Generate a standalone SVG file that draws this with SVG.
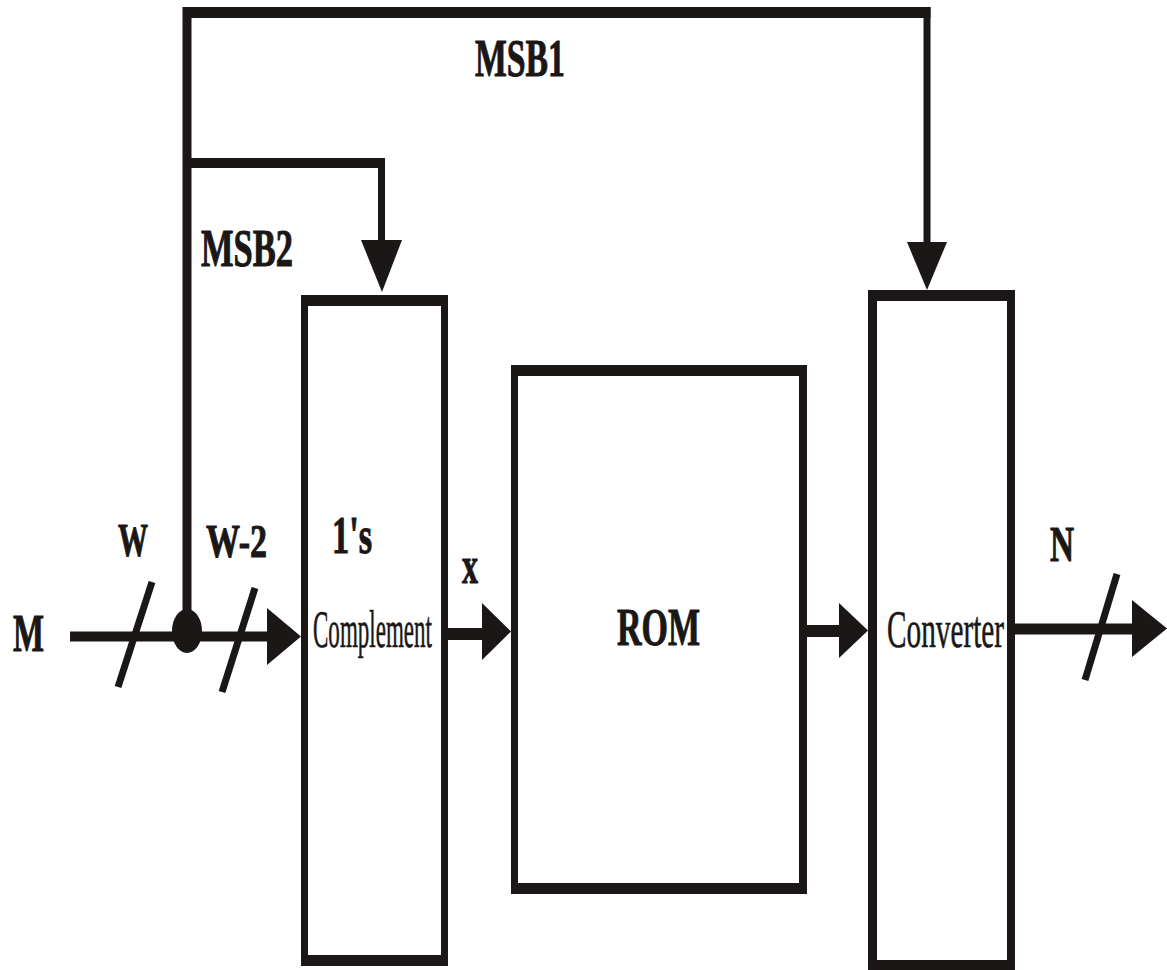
<svg xmlns="http://www.w3.org/2000/svg" width="1167" height="970" viewBox="0 0 1167 970">
<style>
.box{fill:#1a1716;fill-rule:evenodd}
.wire{fill:none;stroke:#1a1716;stroke-linecap:butt}
.head{fill:#1a1716}
.slash{stroke:#1a1716;stroke-width:7;stroke-linecap:butt}
.lb{font-family:"Liberation Serif","Times New Roman",serif;font-weight:bold;fill:#1a1716;stroke:#1a1716;stroke-width:1}
.ln{font-family:"Liberation Serif","Times New Roman",serif;font-weight:normal;fill:#1a1716;stroke:#1a1716;stroke-width:0.6}
</style>
<rect width="1167" height="970" fill="#ffffff"/>
<g id="complement">
<path class="box" d="M301 295H448V966H301Z M308 306V955H441V306Z"/>
<text class="lb" x="332" y="553" font-size="52" textLength="40" lengthAdjust="spacingAndGlyphs">1's</text>
<text class="ln" x="313" y="647" font-size="53" textLength="119" lengthAdjust="spacingAndGlyphs">Complement</text>
</g>
<g id="rom">
<path class="box" d="M511 365H807V894H511Z M518 376V883H799V376Z"/>
<text class="lb" x="617" y="645" font-size="52" textLength="83" lengthAdjust="spacingAndGlyphs">ROM</text>
</g>
<g id="converter">
<path class="box" d="M868 290H1015V970H868Z M877 301V960H1007V301Z"/>
<text class="ln" x="887" y="647" font-size="53" textLength="117" lengthAdjust="spacingAndGlyphs">Converter</text>
</g>
<g id="connectors">
<line class="wire" x1="70" y1="636.5" x2="268" y2="636.5" stroke-width="10"/>
<polygon class="head" points="267,608 301,636.5 267,665"/>
<line class="slash" x1="152" y1="582" x2="118" y2="687"/>
<line class="slash" x1="255" y1="588" x2="222" y2="692"/>
<ellipse class="head" cx="187" cy="631" rx="15" ry="22"/>
<path class="wire" d="M187 631V7" stroke-width="9"/>
<path class="wire" d="M183 12.5H930.5" stroke-width="11"/>
<path class="wire" d="M927 7V243" stroke-width="7"/>
<polygon class="head" points="907,242 947,242 927,290"/>
<path class="wire" d="M187 163H384.5" stroke-width="10"/>
<path class="wire" d="M381.5 158V241" stroke-width="7"/>
<polygon class="head" points="361,240 402,240 382,292"/>
<line class="wire" x1="448" y1="634" x2="483" y2="634" stroke-width="12"/>
<polygon class="head" points="482,603 511,631.5 482,660"/>
<line class="wire" x1="807" y1="631" x2="840" y2="631" stroke-width="12"/>
<polygon class="head" points="839,603 868,630.5 839,658"/>
<line class="wire" x1="1015" y1="629" x2="1133" y2="629" stroke-width="11"/>
<polygon class="head" points="1132,600 1167,628.5 1132,657"/>
<line class="slash" x1="1117" y1="574" x2="1085" y2="680"/>
</g>
<g id="labels">
<text class="lb" x="475" y="76" font-size="53" textLength="90" lengthAdjust="spacingAndGlyphs">MSB1</text>
<text class="lb" x="201" y="266" font-size="52" textLength="92" lengthAdjust="spacingAndGlyphs">MSB2</text>
<text class="lb" x="13" y="651" font-size="52" textLength="31" lengthAdjust="spacingAndGlyphs">M</text>
<text class="lb" x="118" y="556" font-size="47" textLength="30" lengthAdjust="spacingAndGlyphs">W</text>
<text class="lb" x="206" y="557" font-size="47" textLength="61" lengthAdjust="spacingAndGlyphs">W-2</text>
<text class="lb" x="462" y="583" font-size="52" textLength="16" lengthAdjust="spacingAndGlyphs">x</text>
<text class="lb" x="1050" y="561" font-size="50" textLength="24" lengthAdjust="spacingAndGlyphs">N</text>
</g>
</svg>
